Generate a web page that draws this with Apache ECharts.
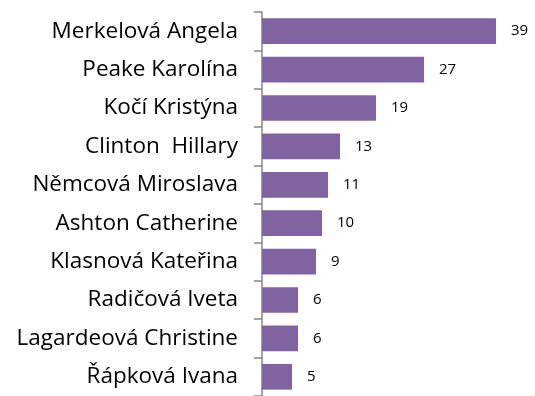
<!DOCTYPE html>
<html>
<head>
<meta charset="utf-8">
<script src="https://cdn.jsdelivr.net/npm/echarts@6/dist/echarts.min.js"></script>
<style>
  html, body { margin: 0; padding: 0; background: #fff; }
  #chart { width: 535px; height: 396px; }
</style>
</head>
<body>
<div id="chart"></div>
<script>
// jména shora dolů
const names = [
  'Merkelová Angela',
  'Peake Karolína',
  'Kočí Kristýna',
  'Clinton  Hillary',
  'Němcová Miroslava',
  'Ashton Catherine',
  'Klasnová Kateřina',
  'Radičová Iveta',
  'Lagardeová Christine',
  'Řápková Ivana'
]
const counts = [39, 27, 19, 13, 11, 10, 9, 6, 6, 5]

const chart = echarts.init(document.getElementById('chart'))
chart.setOption({
  animation: false,
  grid: { left: 262, top: 12, right: 0, height: 391 },
  xAxis: {
    type: 'value',
    min: 0,
    max: 45.5,
    show: false
  },
  yAxis: {
    type: 'category',
    inverse: true,
    data: names,
    axisLine: { lineStyle: { color: '#868686', width: 1.5 } },
    axisTick: { show: true, length: 8, lineStyle: { color: '#868686', width: 1.5 } },
    axisLabel: {
      color: '#000',
      fontFamily: 'Open Sans',
      fontSize: 22.5,
      margin: 24
    }
  },
  series: [{
    type: 'bar',
    data: counts,
    barCategoryGap: '33%',
    itemStyle: { color: '#8064A2' },
    label: {
      show: true,
      position: 'right',
      distance: 15,
      color: '#000',
      fontFamily: 'Open Sans',
      fontSize: 15
    }
  }]
})
</script>
</body>
</html>
